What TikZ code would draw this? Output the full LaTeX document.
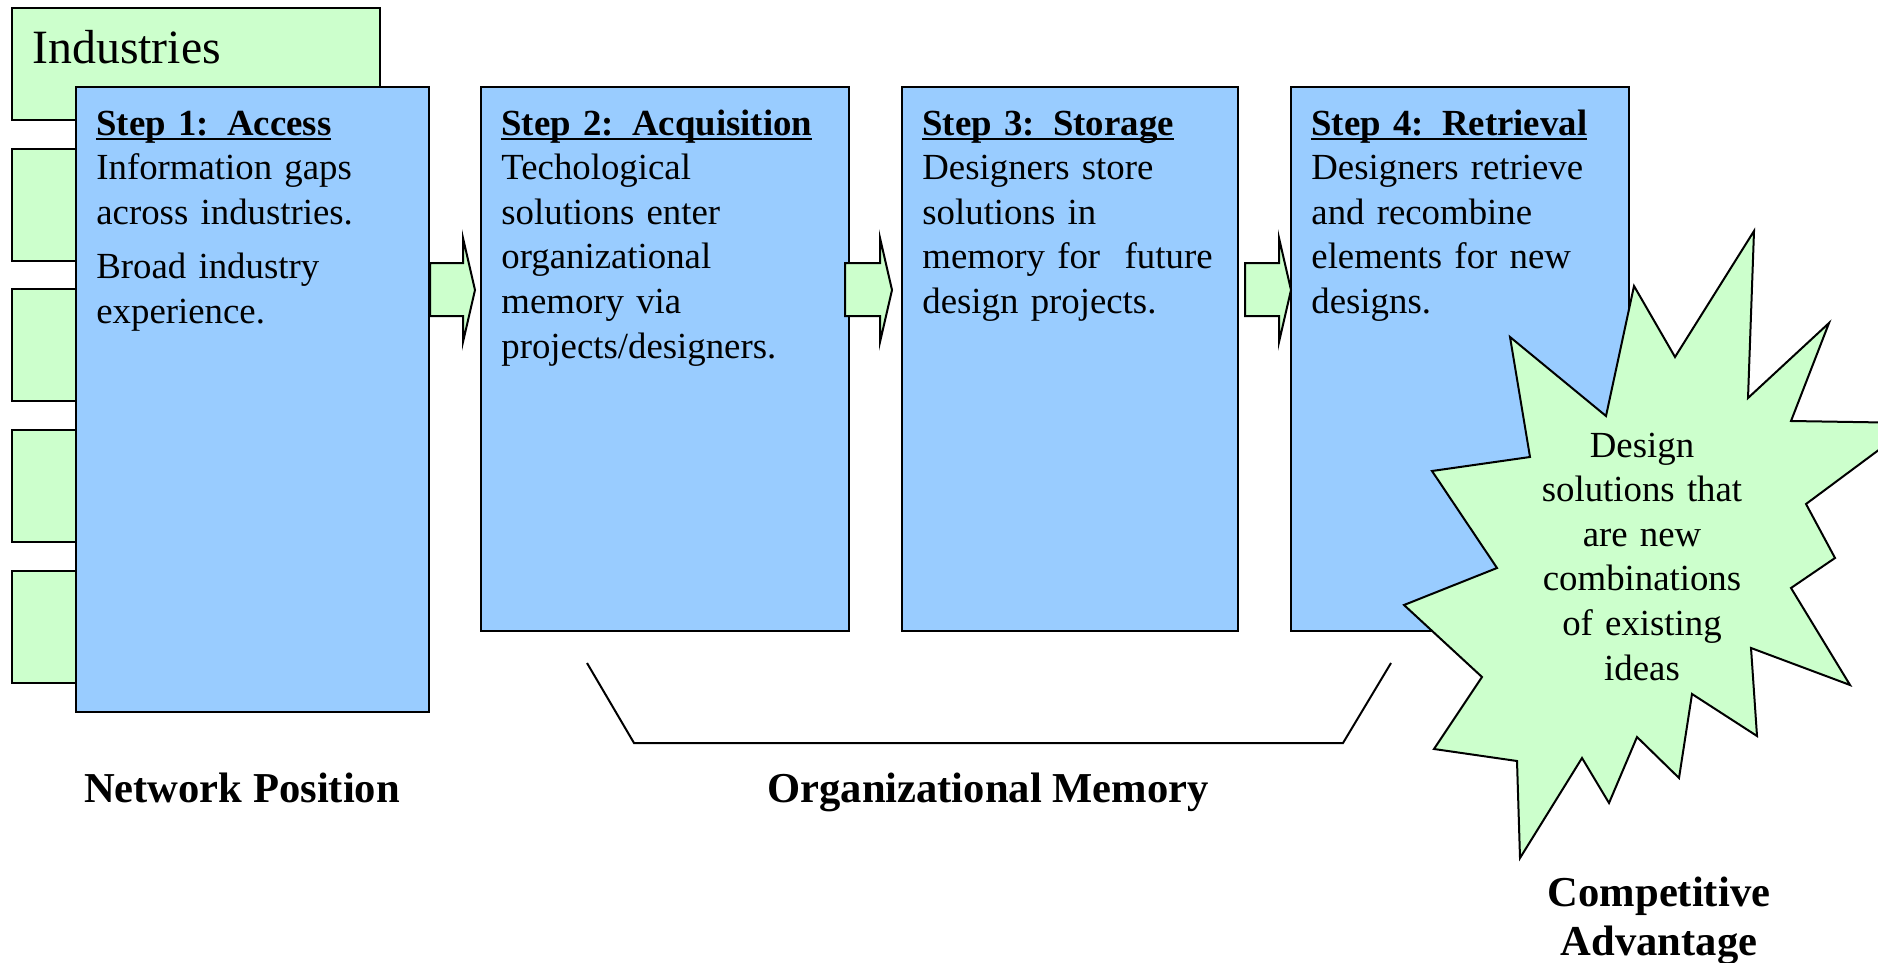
\documentclass[tikz,border=0pt]{standalone}
\usepackage{fontspec}
\setmainfont{Liberation Serif}
\usetikzlibrary{calc}
\definecolor{boxblue}{HTML}{99CCFF}
\definecolor{boxgreen}{HTML}{CCFFCC}
\newsavebox\myulbox
\newcommand\myul[1]{\sbox\myulbox{#1}\rlap{\rule[-0.126em]{\wd\myulbox}{0.053em}}\usebox\myulbox}
\newcommand\blockarrow[2]{\draw[arr] let \p1=(#1), \p2=(#2) in
  (\x1,-131.5pt) -- (\x2-6pt,-131.5pt) -- (\x2-6pt,-119pt) -- (\x2,-145pt)
  -- (\x2-6pt,-171pt) -- (\x2-6pt,-158pt) -- (\x1,-158pt) -- cycle;}
\begin{document}
\begin{tikzpicture}[x=0.5pt,y=-0.5pt,
  gbox/.style={draw, line width=1pt, fill=boxgreen, minimum width=184pt, minimum height=56pt, inner sep=0pt, anchor=north west},
  bbox/.style={draw, line width=1pt, fill=boxblue, inner sep=0pt, anchor=north west},
  btext/.style={anchor=base west, inner sep=0pt, text width=175pt, align=left, font=\fontsize{18.4}{22.3}\selectfont},
  stext/.style={anchor=base, inner sep=0pt, text width=150pt, align=center, font=\fontsize{18.4}{22.3}\selectfont},
  lbl/.style={anchor=base, inner sep=0pt, font=\fontsize{21.3}{24.5}\selectfont\bfseries},
  arr/.style={draw, line width=1pt, fill=boxgreen, line join=miter},
  bracket/.style={draw, line width=1pt},
  starshape/.style={draw, line width=1pt, fill=boxgreen, line join=miter}]
\useasboundingbox (0,0) rectangle (1878,963);
% industries stack
\node[gbox] (ind) at (11,7) {};
\node[gbox] (g1) at (11,148) {};
\node[gbox] (g2) at (11,288) {};
\node[gbox] (g3) at (11,429) {};
\node[gbox] (g4) at (11,570) {};
\node[anchor=base west, inner sep=0pt, font=\fontsize{23.9}{28}\selectfont] (indt) at (32,64) {Industries};
% step boxes
\node[bbox, minimum width=176.5pt, minimum height=312.5pt] (b1) at (75,86) {};
\node[bbox, minimum width=184pt, minimum height=272pt] (b2) at (480,86) {};
\node[bbox, minimum width=168pt, minimum height=272pt] (b3) at (901,86) {};
\node[bbox, minimum width=169pt, minimum height=272pt] (b4) at (1290,86) {};
\node[btext] (t1) at ($(b1.north west)+(21,49)$) {\textbf{\myul{Step 1:\hspace{0.5em}Access}}\\Information gaps\\across industries.\\[5pt]Broad industry\\experience.};
\node[btext] (t2) at ($(b2.north west)+(21,49)$) {\textbf{\myul{Step 2:\hspace{0.5em}Acquisition}}\\Techological\\solutions enter\\organizational\\memory via\\projects/designers.};
\node[btext] (t3) at ($(b3.north west)+(21,49)$) {\textbf{\myul{Step 3:\hspace{0.5em}Storage}}\\Designers store\\solutions in\\memory for\ \ future\\design projects.};
\node[btext] (t4) at ($(b4.north west)+(21,49)$) {\textbf{\myul{Step 4:\hspace{0.5em}Retrieval}}\\Designers retrieve\\and recombine\\elements for new\\designs.};
% arrows
\blockarrow{b1.east}{$(b2.west)+(-5,0)$}
\blockarrow{$(b2.east)+(-5,0)$}{$(b3.west)+(-9,0)$}
\blockarrow{$(b3.east)+(6,0)$}{$(b4.west)+(1,0)$}
% bracket
\draw[bracket] (587,663) -- (634,743) -- (1343,743) -- (1391,663);
% star
\draw[starshape] (1754,231) -- (1748,398) -- (1829,323) -- (1791,421) -- (1915,423)
  -- (1806,504) -- (1835,558) -- (1791,588) -- (1850,685) -- (1751,648)
  -- (1757,736) -- (1692,694) -- (1679,778) -- (1637,737) -- (1609,803)
  -- (1582,758) -- (1520,858) -- (1517,761) -- (1434,749) -- (1482,677)
  -- (1404,605) -- (1497,568) -- (1432,471) -- (1530,457) -- (1510,337)
  -- (1606,416) -- (1634,286) -- (1675,357) -- cycle;
\node[stext] (star) at (1642,457) {Design\\solutions that\\are new\\combinations\\of existing\\ideas};
% labels
\node[lbl] (np) at (242,802) {Network Position};
\node[lbl] (om) at (988,802) {Organizational Memory};
\node[lbl, text width=150pt, align=center] (ca) at (1659,906) {Competitive\\Advantage};
\end{tikzpicture}
\end{document}
